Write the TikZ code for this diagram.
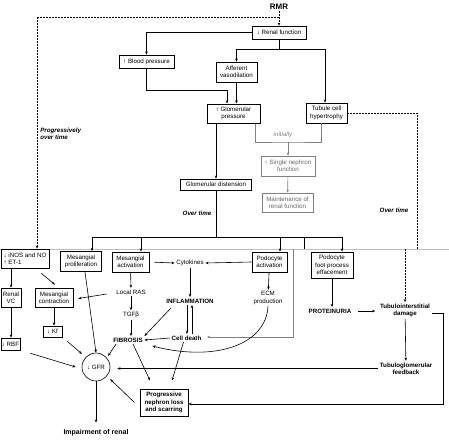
\documentclass[tikz,border=0pt]{standalone}
\usepackage{fontspec}
\setmainfont{Liberation Sans}
\usetikzlibrary{arrows.meta}
\newcommand{\figfont}{\fontsize{6.2}{7.3}\selectfont}
\newcommand{\figbold}{\fontsize{6.2}{7.3}\selectfont\bfseries}

\begin{document}
\begin{tikzpicture}[x=1pt,y=-1pt,line width=0.6pt,
    >={Stealth[length=3.2pt,width=2.6pt]},
    box/.style = {draw, align=center, font=\figfont, inner sep=1pt},
    tbox/.style = {box, line width=1pt},
    gbox/.style = {box, draw=gray, text=gray!80!black},
    txt/.style = {align=center, font=\figfont, inner sep=1.5pt},
    btxt/.style = {align=center, font=\figbold, inner sep=1.5pt},
    note/.style = {align=left, font=\figfont\bfseries\itshape, inner sep=1pt},
    dsh/.style = {dash pattern=on 2pt off 1pt}]
    \useasboundingbox (0,0) rectangle (449,439);
    \draw[gray!50, line width=0.8pt] (0,249) -- (449,249);
    % upper part
    \node[font=\fontsize{8}{9}\selectfont\bfseries, inner sep=1pt] (rmr) at (279,7) {RMR};
    \node[box, minimum width=54pt, minimum height=13pt] (renal) at (279,32.5) {↓ Renal function};
    \node[box, minimum width=55pt, minimum height=13pt] (bp) at (146.5,61.5) {↑ Blood pressure};
    \node[box, minimum width=41pt, minimum height=20pt] (aff) at (236.5,72) {Afferent\\vasodilation};
    \node[tbox, minimum width=53pt, minimum height=19pt] (gp) at (233.5,113.5) {↑ Glomerular\\pressure};
    \node[box, minimum width=41pt, minimum height=20pt] (tub) at (326.5,113) {Tubule cell\\hypertrophy};
    \node[gbox, minimum width=54pt, minimum height=20pt] (sn) at (288,166) {↑ Single nephron\\function};
    \node[gbox, minimum width=51pt, minimum height=19pt] (mrf) at (287.5,202.5) {Maintenance of\\renal function};
    \node[box, minimum width=71pt, minimum height=11pt] (gd) at (216,184.5) {Glomerular distension};
    \node[font=\figfont\itshape, text=gray, inner sep=1pt] (ini) at (283,135) {initially};
    \node[note] (ot1) at (197,213) {Over time};
    \node[note] (ot2) at (394,210) {Over time};
    \node[note, anchor=west] (prg) at (39,133.5) {Progressively\\over time};
    \coordinate (d1) at (37,17);
    \coordinate (d2) at (417,249);
    \coordinate (d3) at (405,249);
    \coordinate (br) at (216,237);
    \coordinate (s1) at (304,249);
    \coordinate (s2) at (293,249);
    \coordinate (b1) at (288,142);
    \coordinate (e1) at (443,313);
    % lower part
    \node[box, align=left, minimum width=48pt, minimum height=19pt] (inos) at (25,258.5) {↓ iNOS and NO\\↑ ET-1};
    \node[tbox, minimum width=41pt, minimum height=20pt] (mprol) at (81,261.5) {Mesangial\\proliferation};
    \node[tbox, minimum width=37pt, minimum height=20pt] (mact) at (130.5,262) {Mesangial\\activation};
    \node[tbox, minimum width=35pt, minimum height=20pt] (podact) at (269.5,262) {Podocyte\\activation};
    \node[tbox, minimum width=42pt, minimum height=26pt] (podfoot) at (332,265) {Podocyte\\foot process\\effacement};
    \node[txt] (cyto) at (190,263) {Cytokines};
    \node[btxt] (infl) at (190,301) {INFLAMMATION};
    \node[txt] (ras) at (131,292) {Local RAS};
    \node[txt] (tgf) at (131,315) {TGFβ};
    \node[btxt] (fib) at (128,340) {FIBROSIS};
    \node[btxt] (cell) at (186.5,338) {Cell death};
    \node[txt] (ecm) at (268,298) {ECM\\production};
    \node[box, minimum width=20pt, minimum height=19pt] (rvc) at (11,297.5) {Renal\\VC};
    \node[box, minimum width=38pt, minimum height=19pt] (mcon) at (54,297.5) {Mesangial\\contraction};
    \node[box, minimum width=19pt, minimum height=11pt] (kf) at (52.5,331.5) {↓ Kf};
    \node[box, minimum width=17pt, minimum height=12pt] (rbf) at (10.5,344) {↓ RBF};
    \node[circle, draw, font=\figfont, minimum size=28pt, inner sep=0pt] (gfr) at (96,367) {↓ GFR};
    \node[tbox, font=\figbold, minimum width=48pt, minimum height=27pt] (prog) at (164,402.5) {Progressive\\nephron loss\\and scarring};
    \node[font=\fontsize{7}{8.5}\selectfont\bfseries, anchor=north, inner sep=1pt] (imp) at (96,428.5) {Impairment of renal};
    \node[btxt] (prot) at (330,311) {PROTEINURIA};
    \node[btxt] (tid) at (405,310.5) {Tubulointerstitial\\damage};
    \node[btxt] (tgfb) at (406,368.5) {Tubuloglomerular\\feedback};
    \coordinate (g1) at ([xshift=7pt]gfr.east);
    % upper connectors
    \draw[dsh,->] (rmr) -- (renal);
    \draw[dsh] (rmr.south |- d1) -- (d1);
    \draw[dsh,->] (d1) -- (d1 |- inos.north);
    \draw[->] (renal.west) -| (bp.north);
    \draw (renal.south) -- ++(0,10) coordinate (r1);
    \draw[->] (r1) -| (aff.north);
    \draw[->] (r1) -| ([xshift=-1.5pt]tub.north);
    \draw[->] (bp.south) -- ++(0,22) -| ([xshift=-6.5pt]gp.north);
    \draw[->] (aff.south) -- (aff.south |- gp.north);
    \draw[->, line width=1pt] ([xshift=-17.5pt]gp.south) -- (gd.north);
    \draw[gray] ([xshift=21.5pt]gp.south) |- (b1) -| ([xshift=-5.5pt]tub.south);
    \draw[gray,->] (b1) -- (sn.north);
    \draw[gray,->] (sn) -- (mrf);
    \draw[line width=1pt] (gd.south) -- (br);
    \draw[->] (br) -| ([xshift=11pt]mprol.north);
    \draw[->] (br) -| ([xshift=10.5pt]mact.north);
    \draw[->] (br) -| ([xshift=10.5pt]podact.north);
    \draw[->] (br) -| ([xshift=10pt]podfoot.north);
    \draw (br) -| (s1);
    \draw[dsh] (tub.east) -| (d2);
    % lower connectors
    \draw[gray, line width=1pt, ->, shorten >=4pt] (s2) |- ([yshift=1pt]cell.east);
    \draw[dsh,->] (d3) -- (tid.north);
    \draw[->] (rvc.north |- inos.south) -- (rvc.north);
    \draw[->] ([shift={(-8pt,-5pt)}]inos.south east) -- ([shift={(1pt,3pt)}]mcon.north);
    \draw[->] ([xshift=-8pt,yshift=-2pt]ras.west) -- ([xshift=5pt,yshift=-1pt]mcon.east);
    \draw[->] (mcon.south) -- (mcon.south |- kf.north);
    \draw[->] (rvc.south) -- (rvc.south |- rbf.north);
    \draw[->] ([shift={(10pt,-3pt)}]rbf.south east) -- ([xshift=-6pt]gfr.west);
    \draw[->] ([shift={(5pt,-4pt)}]kf.south east) -- ([shift={(-4pt,3pt)}]gfr.north west);
    \draw[->] ([xshift=4pt]mprol.south) -- (gfr.north);
    \draw[->] (mact) -- (ras);
    \draw[->] (ras) -- (tgf);
    \draw[->] (tgf.south) -- (tgf.south |- fib.north);
    \draw[->, shorten <=5pt] (mact.east) -- (cyto.west);
    \draw[->] (podact.west) -- (cyto.east);
    \draw[->] (cyto) -- (infl);
    \draw[->] ([shift={(-19pt,-3pt)}]infl.south) -- (fib.north east);
    \draw[->] ([xshift=-3pt]infl.south) -- ([xshift=0.5pt]cell.north);
    \draw[->] ([xshift=5.5pt]cell.north) -- ([xshift=2pt]infl.south);
    \draw[->] (cell.west) -- (fib.east);
    \draw[->] (podact) -- (ecm);
    \draw[->] (ecm.south) .. controls (266,345) and (215,362) .. ([xshift=8pt,yshift=-2pt]fib.south east);
    \draw[->] ([xshift=-3pt]cell.south) -- ([shift={(8pt,8pt)}]prog.north);
    \draw[->] ([xshift=5pt]fib.south) -- ([shift={(-14pt,8pt)}]prog.north);
    \draw[->] ([xshift=-12pt]fib.south) -- ([shift={(2pt,1pt)}]gfr.north east);
    \draw[->] ([xshift=-5pt]prog.west) -- ([shift={(4pt,-2pt)}]gfr.south east);
    \draw[->, shorten >=6pt] (gfr) -- (imp);
    \draw[->] (podfoot.south) -- (podfoot.south |- prot.north);
    \draw[->, shorten <=5pt, shorten >=3pt] (prot.east) -- (prot.east -| tid.west);
    \draw[->] (tid) -- (tgfb);
    \draw[->] (tgfb.west) -- (g1 |- tgfb.west);
    \draw[->] ([yshift=-2.5pt]tid.east) -- (e1) |- ([yshift=-1.5pt]prog.east);
\end{tikzpicture}
\end{document}
